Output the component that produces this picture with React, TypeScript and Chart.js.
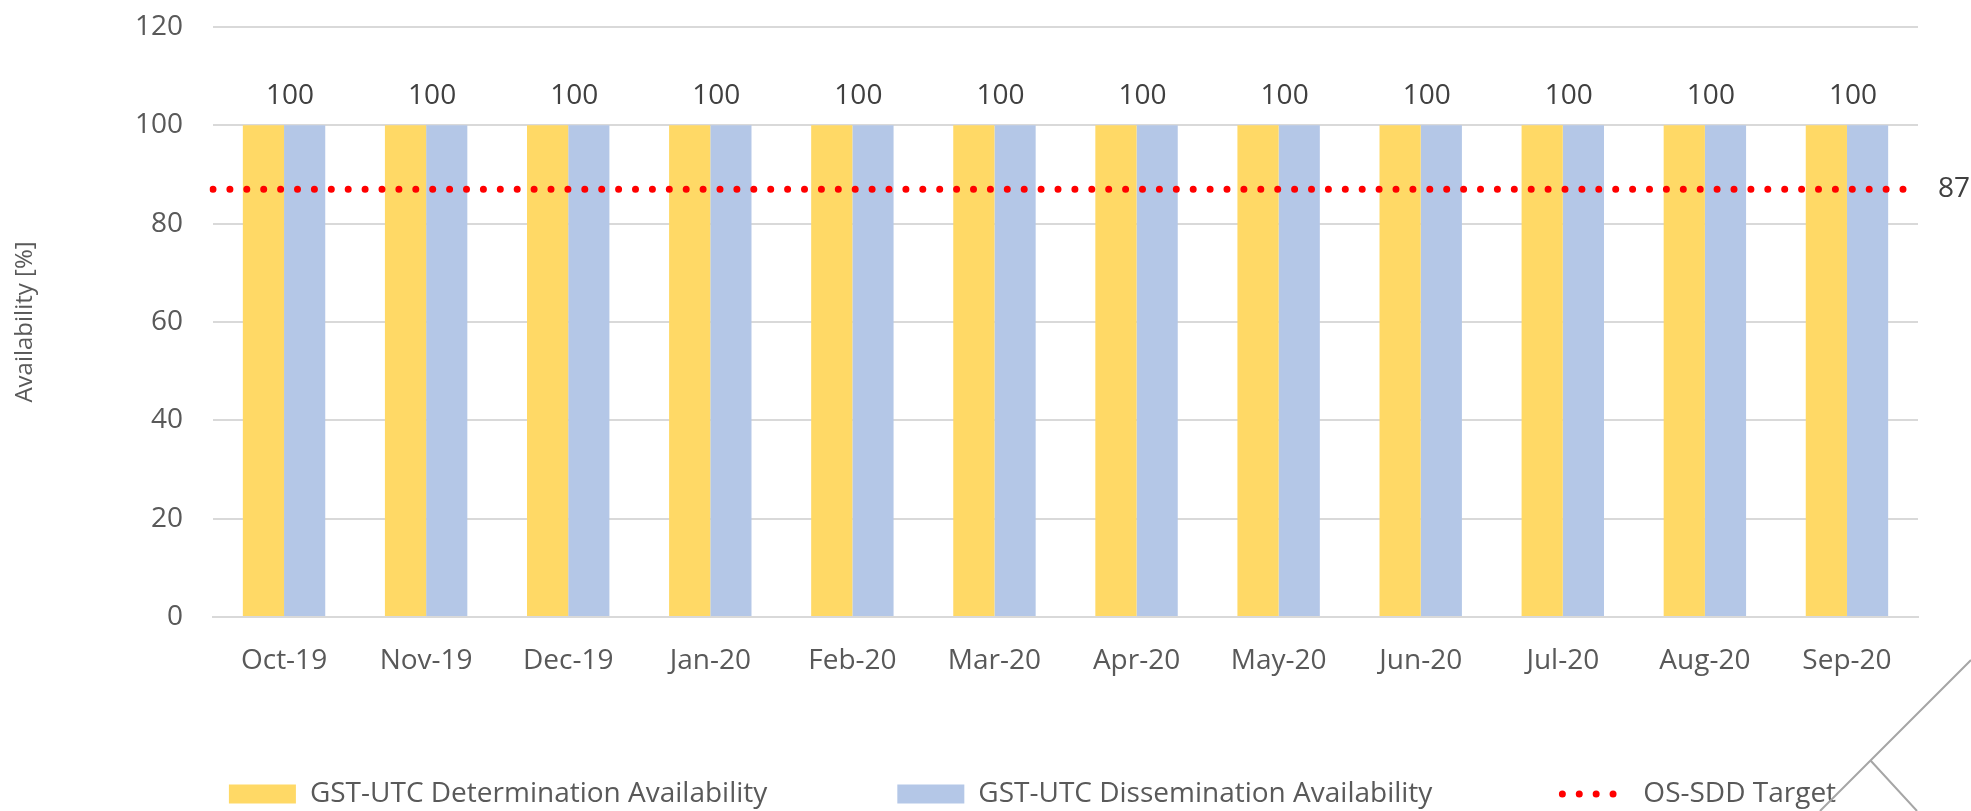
import React, { useEffect, useRef } from 'react';
import { Chart, registerables } from 'chart.js';

Chart.register(...registerables);

const months = ['Oct-19', 'Nov-19', 'Dec-19', 'Jan-20', 'Feb-20', 'Mar-20', 'Apr-20', 'May-20', 'Jun-20', 'Jul-20', 'Aug-20', 'Sep-20'];
const determination = [100, 100, 100, 100, 100, 100, 100, 100, 100, 100, 100, 100];
const dissemination = [100, 100, 100, 100, 100, 100, 100, 100, 100, 100, 100, 100];
const target = [87, 87, 87, 87, 87, 87, 87, 87, 87, 87, 87, 87];
const seriesNames = ['GST-UTC Determination Availability', 'GST-UTC Dissemination Availability', 'OS-SDD Target'];
const yAxisTitle = 'Availability [%]';

// The target line spans the whole plot width (from the left edge of the first
// category to the right edge of the last one), as in the original chart.
const targetPoints = [
  { x: -0.5, y: target[0] },
  ...target.map((v, i) => ({ x: i, y: v })),
  { x: target.length - 0.5, y: target[target.length - 1] },
];

const FONT = "'Open Sans', sans-serif";
const TEXT = '#595959';
const LABEL = '#404040';

const valueLabels = {
  id: 'valueLabels',
  afterDatasetsDraw(chart: any) {
    const ctx = chart.ctx;
    ctx.save();
    ctx.font = `28px ${FONT}`;
    ctx.fillStyle = LABEL;
    ctx.textAlign = 'center';
    ctx.textBaseline = 'middle';
    const meta = chart.getDatasetMeta(0);
    meta.data.forEach((bar: any, i: number) => {
      const p = bar.getProps(['x', 'y', 'width'], true);
      ctx.fillText(String(chart.data.datasets[0].data[i]), p.x + p.width / 2 + 6, p.y - 29);
    });
    const lm = chart.getDatasetMeta(2);
    const n = lm.data.length;
    const last = lm.data[n - 1];
    ctx.textAlign = 'left';
    ctx.fillText(String(target[target.length - 1]), last.x + 20, last.y);
    ctx.restore();
  },
};

const decor = {
  id: 'decor',
  afterDraw(chart: any) {
    const { ctx, width: W, height: H } = chart;
    ctx.save();
    ctx.strokeStyle = '#a6a6a6';
    ctx.lineWidth = 2;
    ctx.setLineDash([]);
    ctx.beginPath();
    ctx.moveTo(W, H - 151);
    ctx.lineTo(W - 151, H);
    ctx.moveTo(W - 100, H - 50);
    ctx.lineTo(W - 54, H);
    ctx.stroke();
    ctx.restore();
  },
};

export default function App() {
  const ref = useRef<HTMLCanvasElement>(null);
  useEffect(() => {
    if (!ref.current) return;
    const chart = new Chart(ref.current, {
      type: 'bar',
      data: {
        labels: months,
        datasets: [
          {
            label: seriesNames[0],
            data: determination,
            backgroundColor: '#FFD966',
            borderWidth: 0,
            categoryPercentage: 0.58,
            barPercentage: 1,
            order: 1,
          },
          {
            label: seriesNames[1],
            data: dissemination,
            backgroundColor: '#B4C7E7',
            borderWidth: 0,
            categoryPercentage: 0.58,
            barPercentage: 1,
            order: 1,
          },
          {
            type: 'line',
            label: seriesNames[2],
            data: targetPoints,
            parsing: false,
            borderColor: '#FF0000',
            backgroundColor: '#FF0000',
            borderWidth: 7,
            borderDash: [0, 16.9],
            borderCapStyle: 'round',
            pointRadius: 0,
            fill: false,
            order: 0,
          } as any,
        ],
      },
      options: {
        animation: false,
        responsive: false,
        devicePixelRatio: 1,
        layout: { padding: { left: 94, right: 0, top: 27, bottom: -7 } },
        plugins: {
          legend: {
            position: 'bottom',
            labels: {
              usePointStyle: true,
              pointStyleWidth: 67,
              boxHeight: 19,
              padding: 130,
              color: TEXT,
              font: { family: FONT, size: 28 },
              sort: (a: any, b: any) => a.datasetIndex - b.datasetIndex,
              generateLabels: (c: any) => {
                const items = (Chart.defaults.plugins.legend.labels as any).generateLabels(c);
                return items.map((it: any) => {
                  const ds: any = c.data.datasets[it.datasetIndex];
                  if (ds.type === 'line') {
                    return {
                      ...it,
                      pointStyle: 'line',
                      strokeStyle: ds.borderColor,
                      fillStyle: ds.borderColor,
                      lineWidth: ds.borderWidth,
                      lineDash: ds.borderDash,
                      lineCap: ds.borderCapStyle,
                    };
                  }
                  return { ...it, pointStyle: 'rect', lineWidth: 0 };
                });
              },
            },
          },
          tooltip: { enabled: false },
        },
        scales: {
          x: {
            type: 'category',
            offset: true,
            grid: { display: false, drawTicks: false },
            border: { display: true, color: '#d9d9d9', width: 2 },
            ticks: { mirror: true, padding: -60.8, color: TEXT, font: { family: FONT, size: 28 }, maxRotation: 0, autoSkip: false },
            afterFit: (s: any) => {
              s.height = 33;
            },
          },
          y: {
            type: 'linear',
            min: 0,
            max: 120,
            ticks: { stepSize: 20, padding: 10, color: TEXT, font: { family: FONT, size: 28 } },
            grid: { color: '#d9d9d9', lineWidth: 2, drawTicks: true, tickLength: 20, tickColor: 'rgba(0,0,0,0)' },
            border: { display: false },
            title: {
              display: true,
              text: yAxisTitle,
              color: TEXT,
              font: { family: FONT, size: 24 },
              padding: { top: -83.4, bottom: 0 },
            },
            afterFit: (s: any) => {
              s.width = 119;
            },
          },
          y2: {
            type: 'linear',
            position: 'right',
            grid: { display: false, drawTicks: false },
            border: { display: false },
            ticks: { display: false },
            afterFit: (s: any) => {
              s.width = 53;
            },
          },
        },
      } as any,
      plugins: [valueLabels, decor],
    });
    return () => chart.destroy();
  }, []);
  return (
    <div style={{ position: 'fixed', left: 0, top: 0, width: 1971, height: 811, background: '#fff' }}>
      <canvas ref={ref} width={1971} height={811} style={{ display: 'block' }} />
    </div>
  );
}
